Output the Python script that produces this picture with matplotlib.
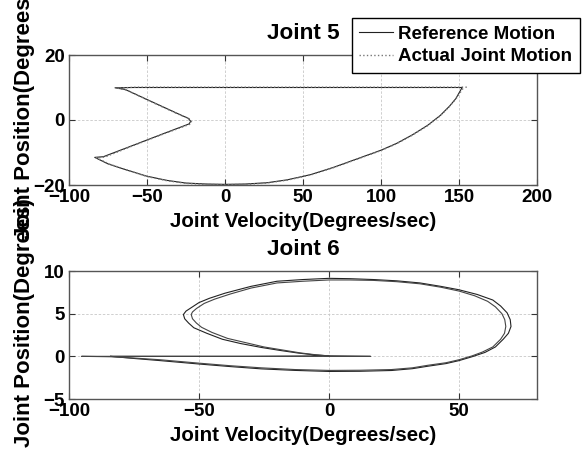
import matplotlib
matplotlib.use("Agg")
from matplotlib import pyplot as plt

plt.rcParams['font.family'] = ['Liberation Sans', 'DejaVu Sans']
plt.rcParams['font.weight'] = 'bold'
plt.rcParams['font.size'] = 13.5

# Joint 5: velocity (deg/s) vs position (deg)
ref5_vel = [152, 120, 80, 40, 0, -40, -60, -70.5, -64, -45, -30, -23.5, -22, -23, -40,
            -60, -78, -83.5, -75, -63, -50, -37, -25, -12, 0, 13, 27, 40, 55, 70, 85,
            100, 110, 120, 130, 138, 144, 148, 152]
ref5_pos = [10, 10, 10, 10, 10, 10, 10, 9.9, 9.4, 5.2, 1.9, 0.5, -0.4, -1.2, -4.3,
            -8.0, -11.3, -11.5, -13.5, -15.4, -17.3, -18.6, -19.4, -19.7, -19.8, -19.7,
            -19.3, -18.4, -16.8, -14.5, -11.9, -9.3, -7.2, -4.6, -1.6, 1.4, 4.3, 6.6, 10]
act5_vel = [155, 120, 80, 40, 0, -40, -57, -69, -63, -45, -30, -23, -21.5, -22.5, -40,
            -60, -77, -82.5, -74, -62, -50, -37, -25, -12, 0, 13, 27, 40, 55, 70, 85,
            100, 110, 120, 130, 138, 144, 148, 153]
act5_pos = [10.1, 10.1, 10.1, 10.1, 10.1, 10.1, 10.1, 9.8, 9.2, 5.1, 1.8, 0.4, -0.5, -1.3, -4.4,
            -8.1, -11.4, -11.6, -13.6, -15.5, -17.4, -18.7, -19.5, -19.8, -19.9, -19.8,
            -19.4, -18.5, -16.9, -14.6, -12.0, -9.4, -7.3, -4.7, -1.7, 1.3, 4.2, 6.5, 10]

# Joint 6
ref6_vel = [-84, -75, -65, -50, -38, -26, -13, 0, 12, 24, 32, 38, 45, 50, 55, 60, 64,
            67, 69, 70, 69.7, 68.5, 66, 63, 57, 50, 43, 35, 26, 17, 8, 0, -10, -20, -30,
            -40, -46, -50, -53, -55, -56, -55.5, -54, -52, -47, -41, -34, -26, -19, -12,
            -6, 0, -30, -60, -84]
ref6_pos = [0, -0.25, -0.5, -0.9, -1.2, -1.47, -1.65, -1.77, -1.75, -1.66, -1.45, -1.16,
            -0.85, -0.5, -0.05, 0.46, 1.1, 2.0, 2.7, 3.5, 4.3, 5.1, 5.9, 6.6, 7.25, 7.8,
            8.2, 8.6, 8.85, 9.0, 9.1, 9.14, 9.0, 8.8, 8.2, 7.4, 6.8, 6.3, 5.7, 5.3, 4.9,
            4.4, 3.9, 3.35, 2.7, 2.0, 1.5, 1.04, 0.7, 0.39, 0.18, 0.05, 0, 0, 0]
act6_vel = [-95, -84, -75, -65, -50, -38, -26, -13, 0, 12, 24, 32, 38, 45, 50, 55, 59,
            63, 66, 67.5, 68, 67.6, 66.5, 64, 61, 56, 50, 43, 35, 26, 17, 8, 0, -10, -20,
            -30, -38, -44, -48, -51, -52.5, -53, -52.5, -51, -49, -45, -39, -32, -25,
            -18, -11, -5, 0, 16, 0, -30, -60, -95]
act6_pos = [0, -0.05, -0.2, -0.4, -0.8, -1.1, -1.35, -1.55, -1.65, -1.63, -1.55, -1.35,
            -1.05, -0.75, -0.4, 0.05, 0.5, 1.1, 2.0, 2.7, 3.5, 4.3, 5.0, 5.8, 6.45, 7.1,
            7.65, 8.1, 8.5, 8.75, 8.9, 8.95, 8.95, 8.8, 8.6, 8.0, 7.3, 6.7, 6.2, 5.6, 5.2,
            4.9, 4.4, 3.9, 3.4, 2.8, 2.1, 1.6, 1.1, 0.75, 0.4, 0.18, 0.05, 0, 0, 0, 0, 0]

xticks5 = [-100, -50, 0, 50, 100, 150, 200]
yticks5 = [-20, 0, 20]
xticks6 = [-100, -50, 0, 50]
yticks6 = [-5, 0, 5, 10]

fig = plt.figure(figsize=(5.84, 4.54), dpi=100)
ax1 = fig.add_axes([69/584, 1-185/454, 468/584, 130/454])
ax2 = fig.add_axes([69/584, 1-399/454, 468/584, 128/454])


def style(ax, xlim, ylim, xticks, yticks, title, ylab_y):
    ax.set_xlim(xlim)
    ax.set_ylim(ylim)
    ax.set_xticks(xticks)
    ax.set_yticks(yticks)
    ax.grid(True, color='#c8c8c8', linestyle=(0, (3, 2)), linewidth=0.6)
    ax.tick_params(direction='in', length=4, width=0.8, color='#333333', pad=3,
                   top=True, right=True)
    for s in ax.spines.values():
        s.set_color('#555555')
        s.set_linewidth(1.0)
    ax.set_title(title, fontweight='bold', pad=11.5)
    ax.set_xlabel('Joint Velocity(Degrees/sec)', fontweight='bold', fontsize=14.8)
    ax.set_ylabel('Joint Position(Degrees)', fontweight='bold', fontsize=16)
    ax.xaxis.set_label_coords(0.5, -0.21)
    ax.yaxis.set_label_coords(-0.072, ylab_y)


l1, = ax1.plot(ref5_vel, ref5_pos, color='#222222', lw=0.8, label='Reference Motion')
l2, = ax1.plot(act5_vel, act5_pos, color='#777777', lw=1.0, ls=':', label='Actual Joint Motion')
style(ax1, (-100, 200), (-20, 20), xticks5, yticks5, 'Joint 5', 0.54)

ax2.plot(ref6_vel, ref6_pos, color='#222222', lw=0.8)
ax2.plot(act6_vel, act6_pos, color='#444444', lw=0.8)
style(ax2, (-100, 80), (-5, 10), xticks6, yticks6, 'Joint 6', 0.6)

leg = ax1.legend(handles=[l1, l2], loc='upper right',
                 bbox_to_anchor=(580/584, 1-18/454), bbox_transform=fig.transFigure,
                 borderaxespad=0, fancybox=False, framealpha=1, edgecolor='black',
                 handlelength=1.8, handletextpad=0.3, labelspacing=0.3,
                 borderpad=0.4, prop={'weight': 'bold', 'size': 13.5})
leg.get_frame().set_linewidth(1.0)

fig.savefig('out.png', dpi=100)
